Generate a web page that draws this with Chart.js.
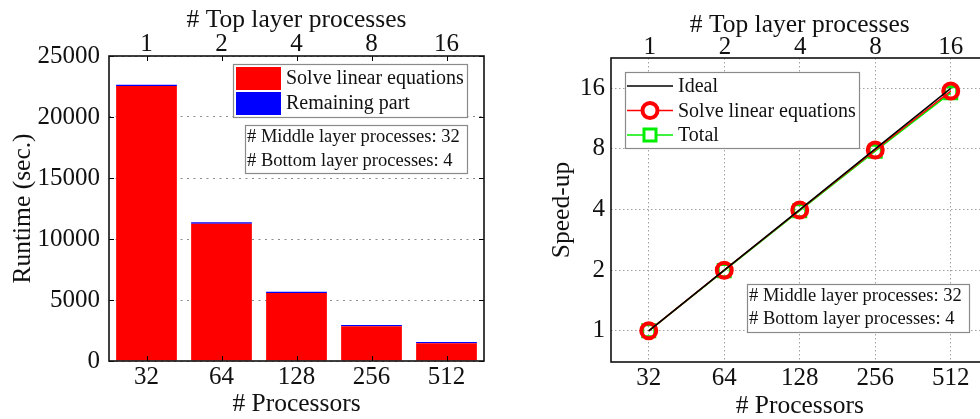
<!DOCTYPE html>
<html>
<head>
<meta charset="utf-8">
<script src="https://cdn.jsdelivr.net/npm/chart.js@4.4.1/dist/chart.umd.min.js"></script>
<style>
  html, body { margin: 0; padding: 0; background: #fff; overflow: hidden; width: 980px; height: 419px; }
  #runtime { position: absolute; left: 0; top: 0; }
  #speedup { position: absolute; left: 490px; top: 0; }
  .warm { position: absolute; left: -999px; top: 0; font-family: 'Liberation Serif'; }
</style>
</head>
<body>
<span class="warm">0123456789 Runtime</span>
<canvas id="runtime" width="490" height="419"></canvas>
<canvas id="speedup" width="510" height="419"></canvas>
<script>
// ---- data ----
const processors = ['32', '64', '128', '256', '512'];
const topLayerProcesses = ['1', '2', '4', '8', '16'];
const processorCounts = [32, 64, 128, 256, 512];
const topLayerCounts = [1, 2, 4, 8, 16];

// runtime in seconds
const solveRuntime = [22540, 11255, 5575, 2845, 1450];
const remainingRuntime = [110, 110, 110, 100, 100];
const runtimeTicks = [0, 5000, 10000, 15000, 20000, 25000];

// speed-up relative to 32 processors
const idealSpeedup = [1, 2, 4, 8, 16];
const solveSpeedup = [1, 2.0, 3.98, 7.9, 15.5];
const totalSpeedup = [1, 1.99, 3.95, 7.8, 15.2];
const speedupTicks = [1, 2, 4, 8, 16];

const settingsNote = ['# Middle layer processes: 32', '# Bottom layer processes: 4'];

// ---- shared styling ----
const SERIF = "'Liberation Serif', Tinos, 'Times New Roman', 'DejaVu Serif', serif";
const tickFont = { family: SERIF, size: 25, lineHeight: 1 };
const titleFont = { family: SERIF, size: 25.5, lineHeight: 1 };

// Axes frame with short inward tick marks
const framePlugin = {
  id: 'frame',
  afterDraw(chart, args, opts) {
    const { ctx, chartArea: a } = chart;
    ctx.save();
    ctx.strokeStyle = '#000';
    ctx.lineWidth = 1;
    const len = opts.tickLen || 0;
    if (len) {
      ctx.beginPath();
      (opts.xScales || []).forEach(id => {
        const s = chart.scales[id];
        s.ticks.forEach((t, i) => {
          const x = Math.round(s.getPixelForTick(i)) + 0.5;
          ctx.moveTo(x, a.top); ctx.lineTo(x, a.top + len);
          ctx.moveTo(x, a.bottom); ctx.lineTo(x, a.bottom - len);
        });
      });
      (opts.yScales || []).forEach(id => {
        const s = chart.scales[id];
        s.ticks.forEach((t, i) => {
          const y = Math.round(s.getPixelForTick(i)) + 0.5;
          ctx.moveTo(a.left, y); ctx.lineTo(a.left + len, y);
          ctx.moveTo(a.right, y); ctx.lineTo(a.right - len, y);
        });
      });
      ctx.stroke();
    }
    ctx.lineWidth = 1.6;
    ctx.strokeStyle = '#111';
    ctx.strokeRect(a.left, a.top, a.right - a.left, a.bottom - a.top);
    ctx.restore();
  }
};

function drawBox(ctx, x, y, w, h) {
  ctx.fillStyle = '#fff';
  ctx.fillRect(x, y, w, h);
  ctx.strokeStyle = '#8a8a8a';
  ctx.lineWidth = 1.2;
  ctx.strokeRect(x + 0.5, y + 0.5, w, h);
}

function drawNote(ctx, a, o) {
  const x = a.left + o.dx, y = a.top + o.dy;
  drawBox(ctx, x, y, o.w, o.h);
  ctx.fillStyle = '#111';
  ctx.font = `18.5px ${SERIF}`;
  ctx.textBaseline = 'middle';
  ctx.textAlign = 'left';
  settingsNote.forEach((line, i) => ctx.fillText(line, x + 2, y + o.firstRow + i * o.rowGap));
}

// Legend + settings note for the runtime bars
const runtimeBoxes = {
  id: 'runtimeBoxes',
  afterDraw(chart) {
    const { ctx, chartArea: a } = chart;
    ctx.save();
    const lx = a.right - 251, ly = a.top + 8;
    drawBox(ctx, lx, ly, 234, 53);
    ctx.font = `20px ${SERIF}`;
    ctx.textBaseline = 'middle';
    ctx.textAlign = 'left';
    chart.data.datasets.forEach((ds, i) => {
      const ry = ly + 3 + i * 25;
      ctx.fillStyle = ds.backgroundColor;
      ctx.fillRect(lx + 3, ry, 45, 23);
      ctx.fillStyle = '#111';
      ctx.fillText(ds.label, lx + 53, ry + 12);
    });
    drawNote(ctx, a, { dx: a.right - a.left - 239, dy: 69, w: 222, h: 48, firstRow: 12.5, rowGap: 23.5 });
    ctx.restore();
  }
};

// Legend + settings note for the speed-up lines
const speedupBoxes = {
  id: 'speedupBoxes',
  afterDraw(chart) {
    const { ctx, chartArea: a } = chart;
    ctx.save();
    const lx = a.left + 14, ly = a.top + 14;
    drawBox(ctx, lx, ly, 234, 76);
    ctx.font = `20px ${SERIF}`;
    ctx.textBaseline = 'middle';
    ctx.textAlign = 'left';
    chart.data.datasets.forEach((ds, i) => {
      const ry = ly + 14 + i * 24.5;
      const x0 = lx + 2, x1 = lx + 48, xm = (x0 + x1) / 2;
      ctx.strokeStyle = ds.borderColor;
      ctx.lineWidth = ds.borderWidth;
      ctx.beginPath(); ctx.moveTo(x0, ry); ctx.lineTo(x1, ry); ctx.stroke();
      if (ds.pointRadius > 0) {
        ctx.fillStyle = '#fff';
        ctx.strokeStyle = ds.pointBorderColor;
        ctx.lineWidth = ds.pointBorderWidth;
        ctx.beginPath();
        if (ds.pointStyle === 'rect') {
          const s = ds.pointRadius * Math.SQRT1_2;
          ctx.rect(xm - s, ry - s, 2 * s, 2 * s);
        } else {
          ctx.arc(xm, ry, ds.pointRadius, 0, Math.PI * 2);
        }
        ctx.fill(); ctx.stroke();
      }
      ctx.fillStyle = '#111';
      ctx.fillText(ds.label, lx + 53, ry + 1);
    });
    drawNote(ctx, a, { dx: 136, dy: 226, w: 222, h: 48, firstRow: 12.5, rowGap: 23 });
    ctx.restore();
  }
};

function buildCharts() {
  // ---- runtime (stacked bars) ----
  new Chart(document.getElementById('runtime'), {
    type: 'bar',
    data: {
      labels: processors,
      datasets: [
        { label: 'Solve linear equations', data: solveRuntime, backgroundColor: '#ff0000', borderWidth: 0 },
        { label: 'Remaining part', data: remainingRuntime, backgroundColor: '#0000ff', borderWidth: 0 }
      ]
    },
    options: {
      responsive: false,
      animation: false,
      devicePixelRatio: 1,
      layout: { padding: { left: 0, right: 6, top: 0, bottom: 0 } },
      datasets: { bar: { barPercentage: 0.81, categoryPercentage: 1 } },
      plugins: {
        legend: { display: false },
        tooltip: { enabled: false },
        frame: { tickLen: 5, xScales: ['xTop'], yScales: ['y'] }
      },
      scales: {
        x: {
          position: 'bottom',
          stacked: true,
          grid: { display: false, drawTicks: false },
          border: { display: false },
          ticks: { font: tickFont, color: '#111', padding: 4, maxRotation: 0 },
          title: { display: true, text: '# Processors', font: titleFont, color: '#111', padding: { top: 0, bottom: 2 } },
          afterFit: s => { s.height = 58; }
        },
        xTop: {
          type: 'category',
          position: 'top',
          labels: topLayerProcesses,
          grid: { display: false, drawTicks: false },
          border: { display: false },
          ticks: { font: tickFont, color: '#111', padding: -1, maxRotation: 0 },
          title: { display: true, text: '# Top layer processes', font: titleFont, color: '#111', padding: { top: 8, bottom: 0 } },
          afterFit: s => { s.height = 56; }
        },
        y: {
          stacked: true,
          min: 0,
          max: 25000,
          afterBuildTicks: s => { s.ticks = runtimeTicks.map(v => ({ value: v })); },
          grid: { color: '#8c8c8c', lineWidth: 1, drawTicks: false },
          border: { display: false, dash: [2, 4.5] },
          ticks: { font: tickFont, color: '#111', padding: 9, callback: (v, i) => String(runtimeTicks[i]) },
          title: { display: true, text: 'Runtime (sec.)', font: titleFont, color: '#111', padding: { top: 11, bottom: 0 } },
          afterFit: s => { s.width = 109; }
        }
      }
    },
    plugins: [framePlugin, runtimeBoxes]
  });

  // ---- speed-up (log-log lines) ----
  const pairs = ys => processorCounts.map((p, i) => ({ x: p, y: ys[i] }));
  const pow2 = e => Math.pow(2, e);

  new Chart(document.getElementById('speedup'), {
    type: 'line',
    data: {
      datasets: [
        { label: 'Ideal', data: pairs(idealSpeedup), borderColor: '#000', borderWidth: 1.5, pointRadius: 0, order: 0 },
        { label: 'Solve linear equations', data: pairs(solveSpeedup), borderColor: '#ff0000', borderWidth: 1.5,
          pointStyle: 'circle', pointRadius: 7.5, pointBorderWidth: 4, pointBorderColor: '#ff0000',
          pointBackgroundColor: 'rgba(255,255,255,0)', order: 1 },
        { label: 'Total', data: pairs(totalSpeedup), borderColor: '#00ee00', borderWidth: 1.5,
          pointStyle: 'rect', pointRadius: 8.5, pointBorderWidth: 3, pointBorderColor: '#00ee00',
          pointBackgroundColor: 'rgba(255,255,255,0)', order: 2 }
      ]
    },
    options: {
      responsive: false,
      animation: false,
      devicePixelRatio: 1,
      layout: { padding: { left: 0, right: 10.5, top: 0, bottom: 0 } },
      plugins: {
        legend: { display: false },
        tooltip: { enabled: false },
        frame: { tickLen: 0 }
      },
      scales: {
        x: {
          type: 'logarithmic',
          position: 'bottom',
          min: pow2(4.5),
          max: pow2(9.5),
          afterBuildTicks: s => { s.ticks = processorCounts.map(v => ({ value: v })); },
          grid: { color: '#a0a0a0', lineWidth: 1, drawTicks: false },
          border: { display: false, dash: [1.5, 2.5] },
          ticks: { font: tickFont, color: '#111', padding: 4, maxRotation: 0, autoSkip: false,
                   callback: (v, i) => processors[i] },
          title: { display: true, text: '# Processors', font: titleFont, color: '#111', padding: { top: 0, bottom: 0 } },
          afterFit: s => { s.height = 57; }
        },
        xTop: {
          type: 'logarithmic',
          position: 'top',
          min: pow2(-0.5),
          max: pow2(4.5),
          afterBuildTicks: s => { s.ticks = topLayerCounts.map(v => ({ value: v })); },
          grid: { display: false, drawTicks: false },
          border: { display: false },
          ticks: { font: tickFont, color: '#111', padding: -2, maxRotation: 0, autoSkip: false,
                   callback: (v, i) => topLayerProcesses[i] },
          title: { display: true, text: '# Top layer processes', font: titleFont, color: '#111', padding: { top: 13, bottom: 0 } },
          afterFit: s => { s.height = 58; }
        },
        y: {
          type: 'logarithmic',
          min: pow2(-0.5),
          max: pow2(4.5),
          afterBuildTicks: s => { s.ticks = speedupTicks.map(v => ({ value: v })); },
          grid: { color: '#a0a0a0', lineWidth: 1, drawTicks: false },
          border: { display: false, dash: [1.5, 2.5] },
          ticks: { font: tickFont, color: '#111', padding: 6, autoSkip: false,
                   callback: (v, i) => String(speedupTicks[i]) },
          title: { display: true, text: 'Speed-up', font: titleFont, color: '#111', padding: { top: 60, bottom: 0 } },
          afterFit: s => { s.width = 121; }
        }
      }
    },
    plugins: [framePlugin, speedupBoxes]
  });
}

// make sure the serif face is ready before the canvases are painted
Promise.all([
  document.fonts.load("25px 'Liberation Serif'"),
  document.fonts.load("20px 'Liberation Serif'")
]).catch(() => {}).then(buildCharts);
</script>
</body>
</html>
